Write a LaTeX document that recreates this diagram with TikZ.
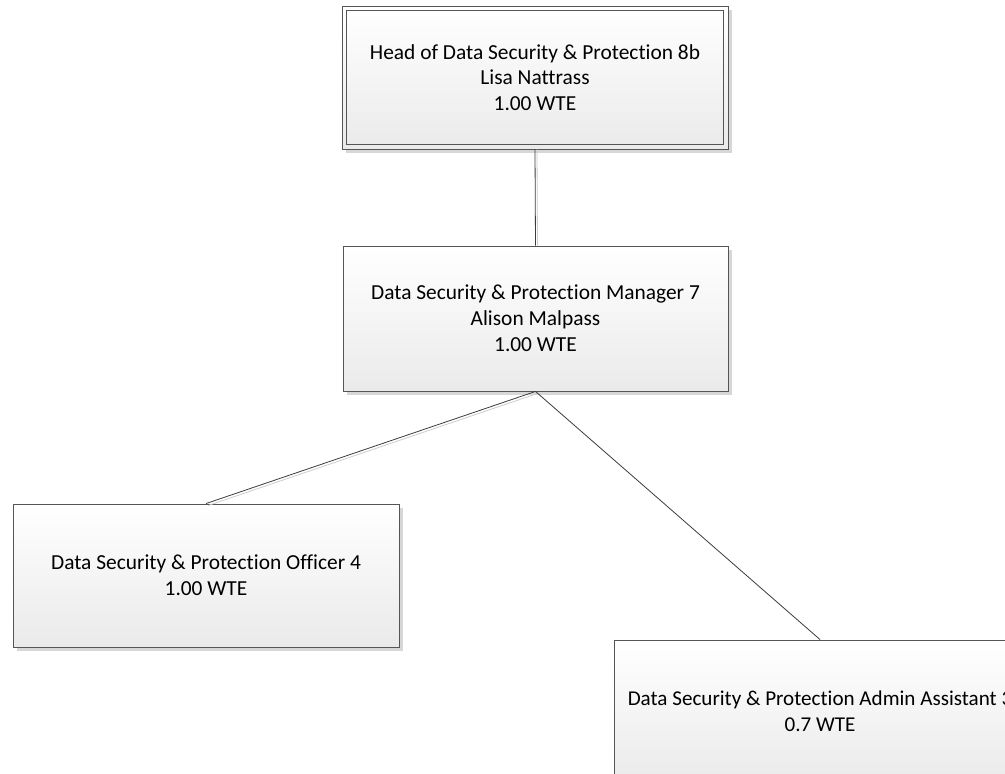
\documentclass[tikz,border=0pt]{standalone}
\usepackage{fontspec}
\setmainfont[Ligatures=NoCommon]{Carlito}
\usetikzlibrary{shadows}
\definecolor{boxline}{RGB}{85,85,85}
\definecolor{boxfill}{RGB}{234,234,234}
\definecolor{shadowgray}{RGB}{215,215,215}
\definecolor{wire}{RGB}{60,60,60}
\definecolor{wireshadow}{RGB}{205,205,205}
\begin{document}
\begin{tikzpicture}[x=1pt,y=-1pt,
  box/.style={rectangle, draw=boxline, line width=0.9pt,
    top color=white, bottom color=boxfill, align=center,
    font=\fontsize{21.4}{25.8}\selectfont, inner sep=0pt,
    drop shadow={shadow xshift=4pt, shadow yshift=-4pt, fill=shadowgray, opacity=1}},
  wirestyle/.style={draw=wire, line width=0.8pt},
  wireshade/.style={draw=wireshadow, line width=0.8pt}]
\useasboundingbox (0,0) rectangle (1005,774);
\fill[white] (0,0) rectangle (1005,774);

\node[box, minimum width=386pt, minimum height=143pt] (head) at (535,77.5)
  {Head of Data Security \& Protection 8b\\Lisa Nattrass\\1.00 WTE};
\draw[boxline, line width=0.9pt] ([shift={(5,5)}]head.north west) rectangle ([shift={(-5,-5)}]head.south east);

\node[box, minimum width=385pt, minimum height=145pt] (mgr) at (535.5,318.5)
  {Data Security \& Protection Manager 7\\Alison Malpass\\1.00 WTE};

\node[box, minimum width=386pt, minimum height=143pt] (off) at (206,575.5)
  {Data Security \& Protection Officer 4\\1.00 WTE};

\node[box, minimum width=412pt, minimum height=143pt, font=\fontsize{21.1}{25.8}\selectfont] (adm) at (820,711.5)
  {Data Security \& Protection Admin Assistant 3\\0.7 WTE};

% connectors with faint shadow lines
\draw[wireshade] ([xshift=2pt]head.south) -- ([xshift=2pt]mgr.north);
\draw[wirestyle] (head.south) -- (mgr.north);
\draw[wireshade] ([shift={(2,2)}]mgr.south) -- ([shift={(2,2)}]off.north);
\draw[wirestyle] (mgr.south) -- (off.north);
\draw[wirestyle] (mgr.south) -- (adm.north);
\end{tikzpicture}
\end{document}
